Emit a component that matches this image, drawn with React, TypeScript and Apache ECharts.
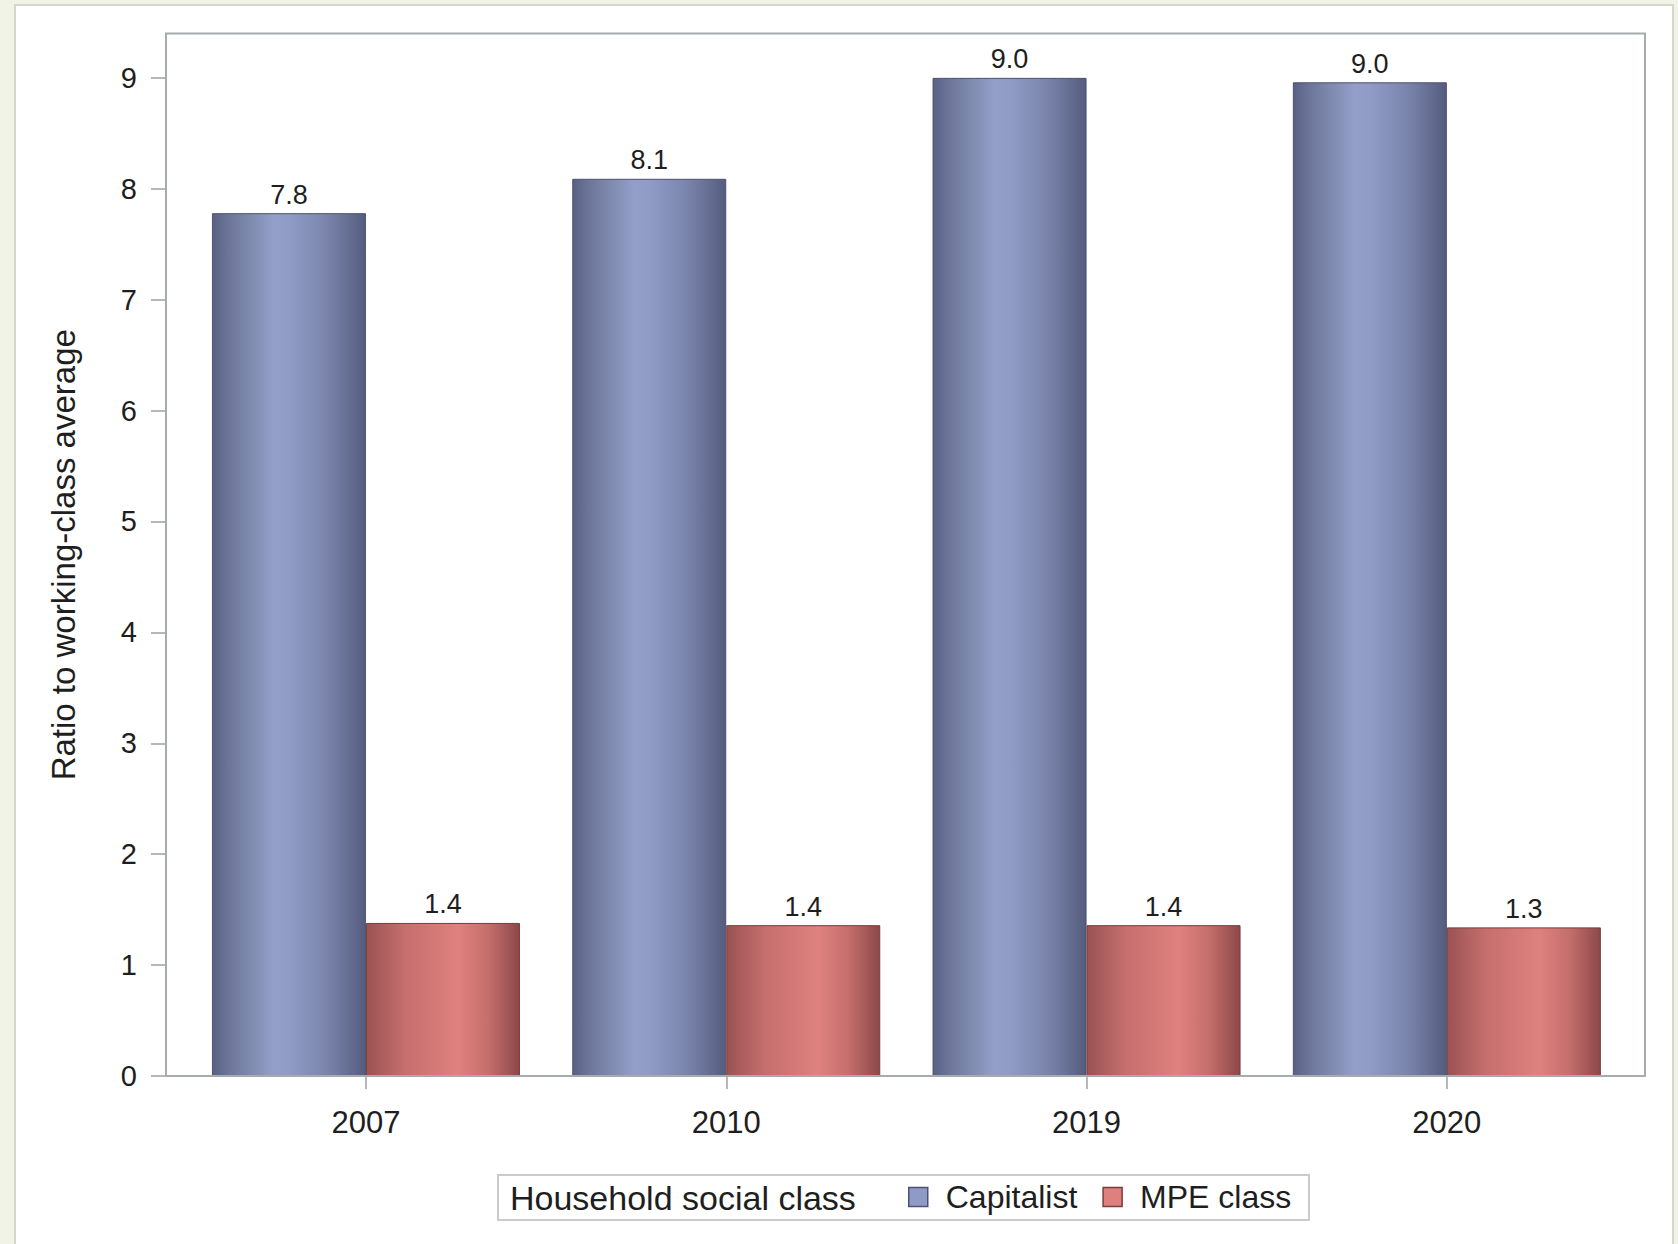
import React, { useEffect, useRef } from "react";
import * as echarts from "echarts";

// Data
const years = ["2007", "2010", "2019", "2020"];
const capitalist = [7.78, 8.09, 9.0, 8.96];
const mpeClass = [1.38, 1.36, 1.36, 1.34];
const yTickValues = [0, 1, 2, 3, 4, 5, 6, 7, 8, 9];
const seriesNames = ["Capitalist", "MPE class"];
const legendTitle = "Household social class";
const yAxisTitle = "Ratio to working-class average";

const FONT = "'Liberation Sans', Arial, sans-serif";

const W = 1678;
const H = 1244;

// Plot frame and band geometry
const frameL = 166;
const frameR = 1645;
const gridL = 185.8;
const gridR = 1627;
const gridTop = 33.5;
const gridBottomY = 1076;

const hGrad = (stops: [number, string][]) =>
  new echarts.graphic.LinearGradient(
    0,
    0,
    1,
    0,
    stops.map(([offset, color]) => ({ offset, color }))
  );

export default function App() {
  const ref = useRef<HTMLDivElement>(null);

  useEffect(() => {
    document.body.style.margin = "0";
    const chart = echarts.init(ref.current!, undefined, { renderer: "svg" });

    const capFill = hGrad([
      [0, "#586084"],
      [0.1, "#6c7598"],
      [0.4, "#939fc8"],
      [0.5, "#909cc6"],
      [0.75, "#7a84ab"],
      [1, "#555c7e"],
    ]);
    const mpeFill = hGrad([
      [0, "#9a5252"],
      [0.25, "#c56f6e"],
      [0.6, "#df817f"],
      [0.8, "#c46e6c"],
      [1, "#8c4848"],
    ]);

    const valueLabel = {
      show: true,
      position: "top",
      distance: 5,
      color: "#1e1e1e",
      fontFamily: FONT,
      fontSize: 27,
      formatter: (p: any) => Number(p.value).toFixed(1),
    };

    chart.setOption({
      animation: false,
      backgroundColor: "#f1f3e6",
      textStyle: { fontFamily: FONT },
      grid: {
        left: gridL,
        right: W - gridR,
        top: gridTop,
        bottom: H - gridBottomY,
        containLabel: false,
      },
      xAxis: {
        type: "category",
        data: years,
        boundaryGap: true,
        axisLine: { show: false },
        axisTick: {
          show: true,
          alignWithLabel: true,
          interval: 0,
          length: 13,
          lineStyle: { color: "#b4b8b9", width: 2 },
        },
        axisLabel: {
          margin: 31,
          color: "#1e1e1e",
          fontFamily: FONT,
          fontSize: 31,
        },
        splitLine: { show: false },
      },
      yAxis: {
        type: "value",
        min: 0,
        max: 9.4,
        interval: 1,
        offset: gridL - frameL,
        name: yAxisTitle,
        nameLocation: "middle",
        nameRotate: 90,
        nameGap: 86,
        nameTextStyle: { color: "#1e1e1e", fontFamily: FONT, fontSize: 33 },
        axisLine: { show: false },
        axisTick: {
          show: true,
          length: 15,
          customValues: yTickValues,
          lineStyle: { color: "#b4b8b9", width: 2 },
        },
        axisLabel: {
          margin: 29,
          color: "#1e1e1e",
          fontFamily: FONT,
          fontSize: 29,
          customValues: yTickValues,
        },
        splitLine: { show: false },
      },
      legend: {
        left: 908,
        top: 1179,
        itemWidth: 19,
        itemHeight: 19,
        itemGap: 25,
        padding: 0,
        icon: "rect",
        textStyle: {
          color: "#1e1e1e",
          fontFamily: FONT,
          fontSize: 32,
          lineHeight: 36,
          padding: [0, 0, 0, 13],
        },
        data: [
          {
            name: seriesNames[0],
            itemStyle: { color: "#8f9bc6", borderColor: "#4b5273", borderWidth: 1.5 },
          },
          {
            name: seriesNames[1],
            itemStyle: { color: "#de807e", borderColor: "#7a3c3c", borderWidth: 1.5 },
          },
        ],
      },
      graphic: [
        {
          type: "rect",
          z: -10,
          silent: true,
          shape: { x: 15, y: 5, width: 1658, height: 1260 },
          style: { fill: "#ffffff", stroke: "#d4d7cd", lineWidth: 2 },
        },
        {
          type: "rect",
          z: 10,
          silent: true,
          shape: {
            x: frameL,
            y: gridTop,
            width: frameR - frameL,
            height: gridBottomY - gridTop,
          },
          style: { fill: "none", stroke: "#a6abad", lineWidth: 2 },
        },
        {
          type: "rect",
          silent: true,
          shape: { x: 498, y: 1175, width: 811, height: 45 },
          style: { fill: "#ffffff", stroke: "#c9cbcb", lineWidth: 2 },
        },
        {
          type: "text",
          silent: true,
          z: 5,
          x: 510,
          y: 1197.5,
          style: {
            text: legendTitle,
            fill: "#1e1e1e",
            font: `34px ${FONT}`,
            verticalAlign: "middle",
            align: "left",
          },
        },
      ],
      series: [
        {
          name: seriesNames[0],
          type: "bar",
          data: capitalist,
          barWidth: 154,
          barGap: "0%",
          itemStyle: { color: capFill, borderColor: "#4b5273", borderWidth: 1 },
          label: valueLabel,
        },
        {
          name: seriesNames[1],
          type: "bar",
          data: mpeClass,
          barWidth: 154,
          barGap: "0%",
          itemStyle: { color: mpeFill, borderColor: "#7a3c3c", borderWidth: 1 },
          label: valueLabel,
        },
      ],
    });

    return () => chart.dispose();
  }, []);

  return (
    <div
      ref={ref}
      style={{ position: "absolute", left: 0, top: 0, width: W, height: H }}
    />
  );
}
